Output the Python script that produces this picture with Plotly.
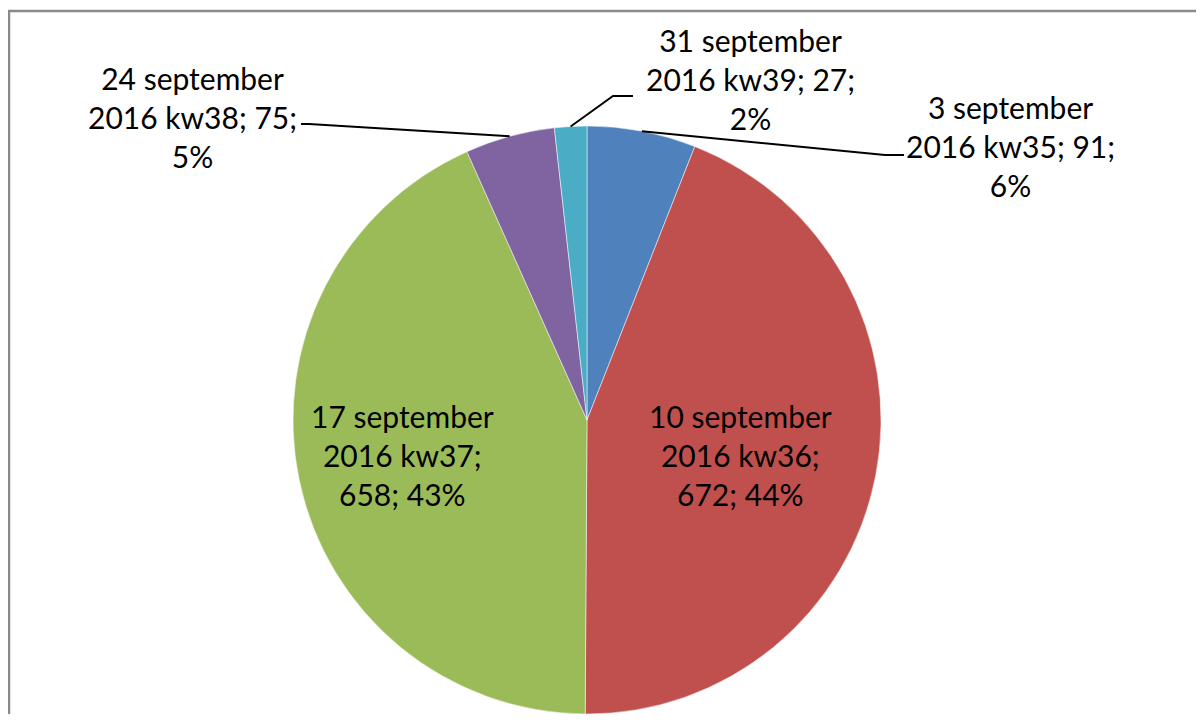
import math
import plotly.graph_objects as go

# The page body has an 8px margin, so the figure is drawn 8px in and kept inside the window.
OFF = 8
W, H = 1204 - 2 * OFF, 722 - 2 * OFF

# ---- data ----
labels = ["3 september 2016 kw35", "10 september 2016 kw36", "17 september 2016 kw37",
          "24 september 2016 kw38", "31 september 2016 kw39"]
label_lines = [["3 september", "2016 kw35; {v};", "{p}%"],
               ["10 september", "2016 kw36;", "{v}; {p}%"],
               ["17 september", "2016 kw37;", "{v}; {p}%"],
               ["24 september", "2016 kw38; {v};", "{p}%"],
               ["31 september", "2016 kw39; {v};", "{p}%"]]
values = [91, 672, 658, 75, 27]
colors = ["#4F81BD", "#C0504D", "#9BBB59", "#8064A2", "#4BACC6"]

# ---- layout (pixel geometry in window coordinates) ----
cx, cy, R = 587, 420, 294
label_pos = [(1010, 146), (740, 455), (402, 455), (192, 117), (750, 79)]
leaders = {0: ((885, 155), (904, 155)),
           3: ((309, 124), (301, 124)),
           4: ((613, 96), (633, 96))}

def px(x):
    return (x - OFF) / W

def py(y):
    return 1 - (y - OFF) / H

total = sum(values)
fig = go.Figure(go.Pie(
    labels=labels, values=values, sort=False, direction="clockwise", rotation=0,
    marker=dict(colors=colors, line=dict(color="white", width=0.5)),
    textinfo="none", hoverinfo="label+value+percent", showlegend=False,
    domain=dict(x=[px(cx - R), px(cx + R)],
                y=[max(0.0, py(cy + R)), min(1.0, py(cy - R))]),
))

annotations = []
shapes = []
cum = 0
for i, v in enumerate(values):
    pct = round(100 * v / total)
    txt = "<br>".join(s.format(v=v, p=pct) for s in label_lines[i])
    lx, ly = label_pos[i]
    annotations.append(dict(x=px(lx), y=py(ly), xref="paper", yref="paper", text=txt,
                            showarrow=False, xanchor="center", yanchor="middle",
                            font=dict(family="Lato", size=30, color="#000000")))
    mid = (cum + v / 2) / total * 2 * math.pi
    cum += v
    if i in leaders:
        sx = cx + R * math.sin(mid)
        sy = cy - R * math.cos(mid)
        (ex, ey), (fx, fy) = leaders[i]
        path = f"M {px(sx)} {py(sy)} L {px(ex)} {py(ey)} L {px(fx)} {py(fy)}"
        shapes.append(dict(type="path", path=path, xref="paper", yref="paper",
                           line=dict(color="#000000", width=2)))

# outer frame of the chart area: only its left and top sides are in the picture
frame = f"M {px(9)} -0.1 L {px(9)} {py(11)} L 1.1 {py(11)}"
shapes.append(dict(type="path", path=frame, xref="paper", yref="paper",
                   line=dict(color="#8a8a8a", width=2.5), layer="below"))

fig.update_layout(width=W, height=H, margin=dict(l=0, r=0, t=0, b=0),
                  paper_bgcolor="white", plot_bgcolor="white",
                  annotations=annotations, shapes=shapes)
fig.write_html("out.html")
